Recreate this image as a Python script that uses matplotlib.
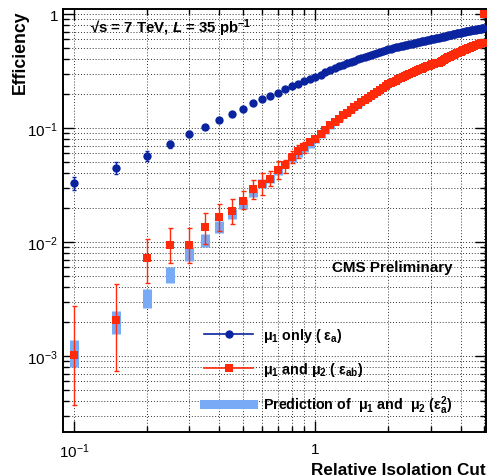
import matplotlib
matplotlib.use("Agg")
import numpy as np
from matplotlib import pyplot as plt
from matplotlib.ticker import LogLocator, NullFormatter, FixedLocator, FixedFormatter

plt.rcParams['font.family'] = ['Liberation Sans', 'DejaVu Sans']
plt.rcParams['mathtext.fontset'] = 'custom'
plt.rcParams['mathtext.rm'] = 'Liberation Sans'
plt.rcParams['mathtext.bf'] = 'Liberation Sans:bold'
plt.rcParams['mathtext.it'] = 'Liberation Sans:italic'
plt.rcParams['mathtext.bfit'] = 'Liberation Sans:bold:italic'

###
# Isolation efficiency vs relative isolation cut
###

iso_cut = [0.10, 0.15, 0.20, 0.25, 0.30, 0.35, 0.40, 0.45, 0.50, 0.55,
           0.60, 0.65, 0.70, 0.75, 0.80, 0.85, 0.90, 0.95, 1.00, 1.05,
           1.10, 1.15, 1.20, 1.25, 1.30, 1.35, 1.40, 1.45, 1.50, 1.55,
           1.60, 1.65, 1.70, 1.75, 1.80, 1.85, 1.90, 1.95, 2.00, 2.05,
           2.10, 2.15, 2.20, 2.25, 2.30, 2.35, 2.40, 2.45, 2.50, 2.55,
           2.60, 2.65, 2.70, 2.75, 2.80, 2.85, 2.90, 2.95, 3.00, 3.05,
           3.10, 3.15, 3.20, 3.25, 3.30, 3.35, 3.40, 3.45, 3.50, 3.55,
           3.60, 3.65, 3.70, 3.75, 3.80, 3.85, 3.90, 3.95, 4.00, 4.05,
           4.10, 4.15, 4.20, 4.25, 4.30, 4.35, 4.40, 4.45, 4.50, 4.55,
           4.60, 4.65, 4.70, 4.75, 4.80, 4.85, 4.90, 4.95, 5.00]

# mu1 only (eps_a)
eff_a = [0.033, 0.045, 0.057, 0.072, 0.089, 0.102, 0.117, 0.133, 0.147, 0.165,
         0.181, 0.190, 0.205, 0.219, 0.232, 0.246, 0.257, 0.268, 0.280, 0.295,
         0.309, 0.322, 0.335, 0.348, 0.359, 0.370, 0.381, 0.391, 0.401, 0.411,
         0.420, 0.430, 0.439, 0.448, 0.457, 0.466, 0.475, 0.484, 0.492, 0.499,
         0.505, 0.511, 0.517, 0.523, 0.529, 0.535, 0.540, 0.546, 0.551, 0.556,
         0.561, 0.566, 0.571, 0.576, 0.581, 0.586, 0.591, 0.596, 0.600, 0.605,
         0.609, 0.614, 0.618, 0.623, 0.627, 0.632, 0.636, 0.641, 0.645, 0.650,
         0.654, 0.659, 0.663, 0.668, 0.672, 0.677, 0.681, 0.686, 0.690, 0.694,
         0.697, 0.701, 0.705, 0.709, 0.713, 0.717, 0.720, 0.723, 0.726, 0.729,
         0.732, 0.735, 0.739, 0.742, 0.745, 0.748, 0.751, 0.754, 1.000]

eff_a_err = ([0.0045, 0.0052, 0.0055, 0.0058, 0.0060, 0.0064, 0.0068, 0.0070,
              0.0072, 0.0075, 0.0078, 0.0080, 0.0080, 0.0082, 0.0084, 0.0086,
              0.0088, 0.0090, 0.0090]
             + [0.0095] * 20 + [0.0100] * 59 + [0.0])

# mu1 and mu2 (eps_ab)
eff_ab = [0.00102, 0.00205, 0.0072, 0.0094, 0.0094, 0.0135, 0.0165, 0.0187, 0.0229, 0.029,
          0.032, 0.036, 0.043, 0.047, 0.056, 0.063, 0.068, 0.075, 0.080, 0.088,
          0.097, 0.106, 0.113, 0.121, 0.129, 0.137, 0.145, 0.153, 0.161, 0.169,
          0.177, 0.185, 0.193, 0.201, 0.209, 0.217, 0.226, 0.234, 0.242, 0.249,
          0.255, 0.261, 0.267, 0.274, 0.280, 0.286, 0.292, 0.298, 0.304, 0.310,
          0.316, 0.321, 0.327, 0.332, 0.338, 0.343, 0.349, 0.354, 0.360, 0.363,
          0.366, 0.369, 0.372, 0.376, 0.381, 0.388, 0.396, 0.404, 0.412, 0.418,
          0.424, 0.430, 0.436, 0.442, 0.448, 0.454, 0.459, 0.465, 0.470, 0.476,
          0.482, 0.487, 0.493, 0.498, 0.503, 0.508, 0.513, 0.518, 0.523, 0.527,
          0.532, 0.536, 0.541, 0.545, 0.549, 0.553, 0.557, 0.561, 1.000]

# asymmetric error band edges for the low-statistics points
eff_ab_low = [0.00037, 0.00074, 0.0044, 0.0065, 0.0065, 0.0096, 0.0125, 0.0145, 0.0195,
              0.024, 0.026, 0.031, 0.036, 0.040, 0.049, 0.055, 0.060]
eff_ab_high = [0.00275, 0.0043, 0.0107, 0.0133, 0.0133, 0.0178, 0.0215, 0.0238, 0.028,
               0.035, 0.040, 0.042, 0.051, 0.052, 0.063, 0.071, 0.076]

x = np.array(iso_cut)
ea = np.array(eff_a)
ea_err = np.array(eff_a_err)
eab = np.array(eff_ab)

# prediction eps_a^2 with propagated error
pred = ea ** 2
pred_err = 2 * ea * ea_err

fig = plt.figure(figsize=(4.87, 4.77), dpi=100)
ax = fig.add_axes([0.1294, 0.0922, 0.8680, 0.8878])

c_blue = '#0a24a0'
c_red = '#ff2a0a'
c_pred = '#78aaf5'

ax.errorbar(x[:-1], pred[:-1], yerr=pred_err[:-1], fmt='none', ecolor=c_pred,
            elinewidth=6.5, capsize=0, zorder=2)

n = len(eff_ab_low)
ax.errorbar(x[:n], eab[:n], yerr=[eab[:n] - np.array(eff_ab_low), np.array(eff_ab_high) - eab[:n]],
            fmt='none', ecolor=c_red, elinewidth=1.0, capsize=1.8, capthick=1.0, zorder=3)
ax.errorbar(x[:5], ea[:5], yerr=ea_err[:5], fmt='none', ecolor=c_blue,
            elinewidth=1.0, capsize=1.5, zorder=3)

ax.plot(x, ea, 'o', color=c_blue, markersize=6, markeredgewidth=0, zorder=4)
ax.plot(x, eab, 's', color=c_red, markersize=5.6, markeredgewidth=0, zorder=5)

ax.set_xscale('log')
ax.set_yscale('log')
ax.set_xlim(0.0901, 5.07)
ax.set_ylim(2.15e-4, 1.12)

ax.xaxis.set_major_locator(FixedLocator([0.1, 1]))
ax.xaxis.set_major_formatter(FixedFormatter([r'$10^{-1}$', '1']))
ax.xaxis.set_minor_locator(FixedLocator([0.2, 0.3, 0.4, 0.5, 0.6, 0.7, 0.8, 0.9, 2, 3, 4, 5]))
ax.xaxis.set_minor_formatter(NullFormatter())
ax.yaxis.set_major_locator(FixedLocator([1e-3, 1e-2, 1e-1, 1]))
ax.yaxis.set_major_formatter(FixedFormatter([r'$10^{-3}$', r'$10^{-2}$', r'$10^{-1}$', '1']))
ax.yaxis.set_minor_locator(LogLocator(base=10, subs=np.arange(2, 10), numticks=20))
ax.yaxis.set_minor_formatter(NullFormatter())

ax.tick_params(which='both', direction='in', top=True, right=True, width=1.0, labelsize=11)
ax.tick_params(which='major', length=8)
ax.tick_params(which='minor', length=4)
ax.tick_params(axis='x', pad=7)
ax.grid(True, which='both', linestyle=(0, (1, 2)), color='0.2', linewidth=0.7)
ax.set_axisbelow(True)
for s in ax.spines.values():
    s.set_linewidth(1.4)

fig.text(20 / 487, 1 - 10 / 477, 'Efficiency', rotation=90, ha='center', va='top',
         fontsize=12.7, fontweight='bold')
fig.text(0.997, 1 - 471 / 477, 'Relative Isolation Cut', ha='right', va='center',
         fontsize=12.3, fontweight='bold')

ax.text(0.064, 0.956, r'√s = 7 TeV, $\mathbfit{L}$ = 35 pb$^{\mathbf{-1}}$', transform=ax.transAxes,
        ha='left', va='center', fontsize=10.8, fontweight='bold')
ax.text(0.637, 0.39, 'CMS Preliminary', transform=ax.transAxes,
        ha='left', va='center', fontsize=10.9, fontweight='bold')

h1, = ax.plot([], [], '-o', color=c_blue, markersize=6, markeredgewidth=0, linewidth=1.2)
h2, = ax.plot([], [], '-s', color=c_red, markersize=5.6, markeredgewidth=0, linewidth=1.2)
h3, = ax.plot([], [], '-', color=c_pred, linewidth=6.5)
ax.legend([h1, h2, h3],
          [r'$\mathbf{\mu_{1}}$ only ( $\mathbf{\varepsilon_{a}}$)',
           r'$\mathbf{\mu_{1}}$ and $\mathbf{\mu_{2}}$ ( $\mathbf{\varepsilon_{ab}}$)',
           r'Prediction of  $\mathbf{\mu_{1}}$ and  $\mathbf{\mu_{2}}$ ($\mathbf{\varepsilon_{a}^{2}}$)'],
          loc='upper left', bbox_to_anchor=(0.334, 0.25), frameon=False,
          prop={'weight': 'bold', 'size': 10.3}, handlelength=3.4, handletextpad=0.7,
          labelspacing=1.1, borderpad=0, borderaxespad=0)

plt.savefig('out.png', dpi=100)
